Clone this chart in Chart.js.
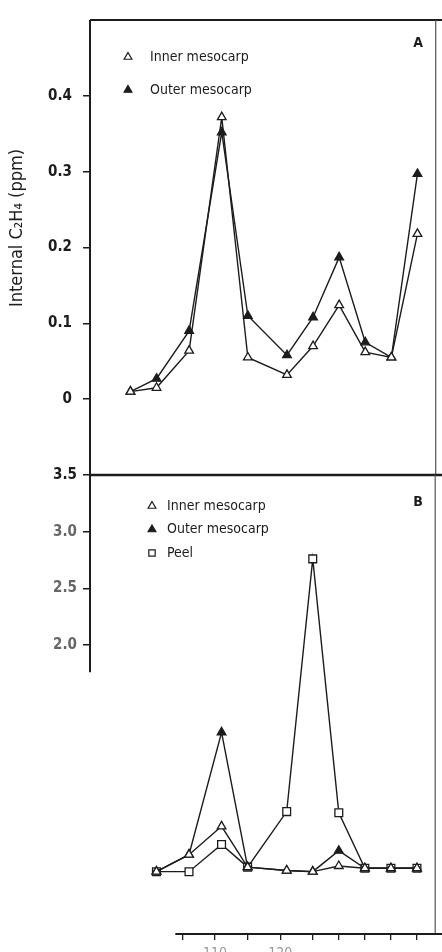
<!DOCTYPE html>
<html>
<head>
<meta charset="utf-8">
<script src="https://cdn.jsdelivr.net/npm/chart.js@4.4.1/dist/chart.umd.min.js"></script>
<style>
  body { margin: 0; background: #fff; }
  #wrap { position: relative; width: 442px; height: 952px; }
  canvas { position: absolute; left: 0; top: 0; }
</style>
</head>
<body>
<div id="wrap">
  <canvas id="panelA" width="442" height="952"></canvas>
  <canvas id="panelB" width="442" height="952"></canvas>
</div>
<script>
// sampling days (A starts one sample earlier than B)
const daysA = [97, 101, 106, 111, 115, 121, 125, 129, 133, 137, 141];
const daysB = [101, 106, 111, 115, 121, 125, 129, 133, 137, 141];

// A - internal C2H4 (ppm)
const innerA = [0.01, 0.015, 0.064, 0.372, 0.055, 0.032, 0.07, 0.124, 0.062, 0.055, 0.218];
const outerA = [0.01, 0.027, 0.09, 0.352, 0.11, 0.058, 0.108, 0.187, 0.075, 0.055, 0.297];

// B
const innerB = [0, 0.15, 0.40, 0.04, 0.01, 0.0, 0.05, 0.03, 0.03, 0.03];
const outerB = [0, 0.15, 1.23, 0.04, 0.01, 0.0, 0.185, 0.03, 0.03, 0.03];
const peelB  = [0, 0.0, 0.24, 0.04, 0.53, 2.76, 0.52, 0.03, 0.03, 0.03];

const ticksA = [0, 0.1, 0.2, 0.3, 0.4];
const ticksB = [2.0, 2.5, 3.0, 3.5];
const dayTicks = [105, 110, 115, 120, 125, 129, 133, 137, 141];
const dayLabels = [110, 120];

const ink = '#1c1c1c';
const narrow = "'Liberation Sans Narrow', 'DejaVu Sans Condensed', 'Liberation Sans', sans-serif";
const dayMin = 90.8, dayMax = 143.8;

function serie(label, xs, ys, shape, fill, r) {
  return {
    label: label,
    data: xs.map((x, i) => ({ x: x, y: ys[i] })),
    borderColor: ink,
    borderWidth: 1.4,
    pointStyle: shape,
    pointRadius: r,
    pointBorderWidth: 1.3,
    pointBorderColor: ink,
    pointBackgroundColor: fill,
    tension: 0,
    fill: false
  };
}

// frame lines; B has a torn lower-left corner so its left and bottom lines are partial
const frame = {
  id: 'frame',
  afterDraw(chart, args, o) {
    const { ctx, chartArea: a, scales } = chart;
    ctx.save();
    ctx.strokeStyle = ink;
    const line = (x1, y1, x2, y2, w, c) => {
      ctx.lineWidth = w;
      ctx.strokeStyle = c || ink;
      ctx.beginPath(); ctx.moveTo(x1, y1); ctx.lineTo(x2, y2); ctx.stroke();
    };
    line(a.left, a.top, chart.width, a.top, o.topWidth);
    line(a.right, a.top, a.right, a.bottom, 1.2, '#555');
    const leftEnd = o.leftTo != null ? scales.y.getPixelForValue(o.leftTo) : a.bottom;
    line(a.left, a.top, a.left, leftEnd, 2);
    if (o.bottomFrom != null) {
      line(scales.x.getPixelForValue(o.bottomFrom), a.bottom, chart.width, a.bottom, 2);
    }
    ctx.restore();
  }
};

// legend inside the plot, panel letter and y title
const panelText = {
  id: 'panelText',
  afterDraw(chart, args, o) {
    const { ctx, chartArea: a } = chart;
    ctx.save();
    ctx.textBaseline = 'middle';
    ctx.strokeStyle = ink;
    chart.data.datasets.forEach((ds, i) => {
      const y = a.top + o.legendTop + i * o.legendGap;
      ctx.fillStyle = ds.pointBackgroundColor;
      ctx.lineWidth = 1.2;
      Chart.helpers.drawPoint(ctx, { pointStyle: ds.pointStyle, radius: o.legendR, borderWidth: 1.2, rotation: 0 }, a.left + o.markerX, y);
      ctx.fillStyle = ink;
      ctx.font = '14px ' + narrow;
      ctx.fillText(ds.label, a.left + o.textX, y);
    });
    ctx.font = 'bold 14px ' + narrow;
    ctx.textAlign = 'center';
    ctx.fillText(o.letter, o.letterX, o.letterY);
    if (o.title) {
      ctx.translate(o.titleX, o.titleY);
      ctx.rotate(-Math.PI / 2);
      ctx.font = '18px ' + narrow;
      ctx.fillText(o.title, 0, 0);
    }
    ctx.restore();
  }
};

function yScale(min, max, tickList, pad, fmt, color) {
  return {
    min: min, max: max,
    afterFit: s => { s.width = 90; },
    afterBuildTicks: s => { s.ticks = tickList.map(v => ({ value: v })); },
    border: { display: false },
    grid: { drawOnChartArea: false, tickLength: 7, color: ink, lineWidth: 1.5 },
    ticks: { padding: pad, color: color, font: { family: narrow, size: 15, weight: 'bold' }, callback: fmt }
  };
}

new Chart(document.getElementById('panelA'), {
  type: 'line',
  data: {
    datasets: [
      serie('Inner mesocarp', daysA, innerA, 'triangle', '#fff', 5),
      serie('Outer mesocarp', daysA, outerA, 'triangle', ink, 5)
    ]
  },
  options: {
    responsive: false,
    animation: false,
    layout: { padding: { top: 15, right: 2, bottom: 477, left: 0 } },
    scales: {
      x: { type: 'linear', min: dayMin, max: dayMax, display: false },
      y: yScale(-0.1, 0.5, ticksA, 11, v => v === 0 ? '0' : v.toFixed(1), ink)
    },
    plugins: {
      legend: { display: false },
      tooltip: { enabled: false },
      frame: { topWidth: 2 },
      panelText: {
        legendTop: 37, legendGap: 33, legendR: 4.5, markerX: 38, textX: 60,
        letter: 'A', letterX: 418, letterY: 43,
        title: 'Internal C\u2082H\u2084 (ppm)', titleX: 17, titleY: 228
      }
    }
  },
  plugins: [frame, panelText]
});

new Chart(document.getElementById('panelB'), {
  type: 'line',
  data: {
    datasets: [
      serie('Inner mesocarp', daysB, innerB, 'triangle', '#fff', 5),
      serie('Outer mesocarp', daysB, outerB, 'triangle', ink, 5),
      serie('Peel', daysB, peelB, 'rect', '#fff', 5.5)
    ]
  },
  options: {
    responsive: false,
    animation: false,
    layout: { padding: { top: 475, right: 2, bottom: 0, left: 0 } },
    scales: {
      x: {
        type: 'linear', min: dayMin, max: dayMax,
        afterFit: s => { s.height = 18; },
        afterBuildTicks: s => { s.ticks = dayTicks.map(v => ({ value: v })); },
        border: { display: false },
        grid: { drawOnChartArea: false, tickLength: 6, color: ink, lineWidth: 1.3 },
        ticks: {
          padding: 5, autoSkip: false, maxRotation: 0, color: '#999',
          font: { family: narrow, size: 14 },
          callback: v => dayLabels.includes(v) ? String(v) : ''
        }
      },
      y: yScale(-0.55, 3.5, ticksB, 6, v => v.toFixed(1), c => c.tick.value === 3.5 ? ink : '#666')
    },
    plugins: {
      legend: { display: false },
      tooltip: { enabled: false },
      frame: { topWidth: 2.5, leftTo: 1.76, bottomFrom: 103.9 },
      panelText: {
        legendTop: 31, legendGap: 23.5, legendR: 4.5, markerX: 62, textX: 77,
        letter: 'B', letterX: 418, letterY: 502
      }
    }
  },
  plugins: [frame, panelText]
});
</script>
</body>
</html>
